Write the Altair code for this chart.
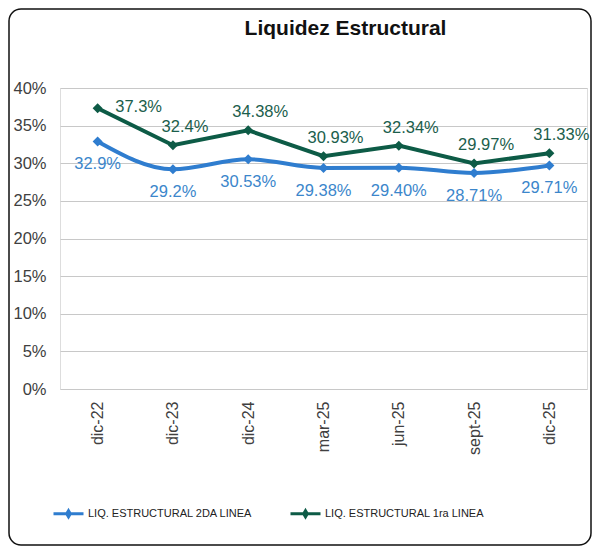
import altair as alt
import pandas as pd

categories = ["dic-22", "dic-23", "dic-24", "mar-25", "jun-25", "sept-25", "dic-25"]
series_names = ["LIQ. ESTRUCTURAL 2DA LINEA", "LIQ. ESTRUCTURAL 1ra LINEA"]
vals_2da = [0.329, 0.292, 0.3053, 0.2938, 0.2940, 0.2871, 0.2971]
vals_1ra = [0.373, 0.324, 0.3438, 0.3093, 0.3234, 0.2997, 0.3133]
labels_2da = ["32.9%", "29.2%", "30.53%", "29.38%", "29.40%", "28.71%", "29.71%"]
labels_1ra = ["37.3%", "32.4%", "34.38%", "30.93%", "32.34%", "29.97%", "31.33%"]
y_ticks = [0, 0.05, 0.10, 0.15, 0.20, 0.25, 0.30, 0.35, 0.40]

rows = []
for c, v, l in zip(categories, vals_2da, labels_2da):
    rows.append({"cat": c, "serie": series_names[0], "value": v, "label": l})
for c, v, l in zip(categories, vals_1ra, labels_1ra):
    rows.append({"cat": c, "serie": series_names[1], "value": v, "label": l})
df = pd.DataFrame(rows)

BLUE = "#2f7dcf"
GREEN = "#0d5b46"
BLUE_TXT = "#3b86cb"
GREEN_TXT = "#1b5e4c"
FONT = "Liberation Sans"

x_enc = alt.X("cat:N", sort=categories, title=None,
              scale=alt.Scale(paddingInner=0, paddingOuter=0),
              axis=alt.Axis(labelAngle=-90, labelAlign="right", labelBaseline="middle",
                            labelPadding=12, ticks=False, domain=False, grid=False,
                            labelFontSize=16, labelColor="#404040", labelFont=FONT))
y_enc = alt.Y("value:Q", title=None,
              scale=alt.Scale(domain=[0, 0.4], nice=False),
              axis=alt.Axis(values=y_ticks, format=".0%", ticks=False, domain=False,
                            grid=True, gridColor="#c8c8c8", gridWidth=1,
                            labelPadding=14, labelFontSize=16.5, labelColor="#404040",
                            labelFont=FONT))

legend = alt.Legend(title=None, orient="none", direction="horizontal",
                    legendX=-8, legendY=409,
                    symbolType="M-1,0L1,0M0,-0.2L0.12,0L0,0.2L-0.12,0Z",
                    symbolSize=900, symbolStrokeWidth=3, labelOffset=3,
                    columnPadding=31, labelFontSize=11, labelColor="#222222",
                    labelFont=FONT, labelLimit=300)
color_enc = alt.Color("serie:N", scale=alt.Scale(domain=series_names, range=[BLUE, GREEN]),
                      legend=legend)

base = alt.Chart(df).encode(x=x_enc, y=y_enc)

line_blue = base.transform_filter(alt.datum.serie == series_names[0]).mark_line(
    strokeWidth=4, interpolate="monotone").encode(color=color_enc)
line_green = base.transform_filter(alt.datum.serie == series_names[1]).mark_line(
    strokeWidth=4, interpolate="linear").encode(color=color_enc)
points = base.mark_point(shape="diamond", filled=True, size=100, opacity=1).encode(color=color_enc)

txt_blue = base.transform_filter(alt.datum.serie == series_names[0]).mark_text(
    dy=23, fontSize=16.5, font=FONT, color=BLUE_TXT).encode(text="label:N")
txt_green = base.transform_filter(
    (alt.datum.serie == series_names[1]) & (alt.datum.cat != categories[0])).mark_text(
    dx=12, dy=-18, fontSize=16.5, font=FONT, color=GREEN_TXT).encode(text="label:N")
txt_green0 = base.transform_filter(
    (alt.datum.serie == series_names[1]) & (alt.datum.cat == categories[0])).mark_text(
    dx=41, dy=-1, fontSize=16.5, font=FONT, color=GREEN_TXT).encode(text="label:N")

frame = alt.Chart(alt.Data(values=[{"a": 1}])).mark_rect(
    filled=False, stroke="#111111", strokeWidth=1.5, cornerRadius=12).encode(
    x=alt.value(-51), x2=alt.value(531), y=alt.value(-79), y2=alt.value(457))

chart = alt.layer(frame, line_blue, line_green, points, txt_blue, txt_green, txt_green0).properties(
    width=527, height=301,
    title=alt.TitleParams("Liquidez Estructural", fontSize=21, fontWeight="bold",
                          font=FONT, color="#111111", dx=22, offset=-31),
    autosize=alt.AutoSizeParams(type="none"),
    padding={"left": 52, "top": 80, "right": 5, "bottom": 157},
).configure_view(stroke=None).configure(background="white")

chart.save("out.html", embed_options={"renderer": "svg", "actions": False})
